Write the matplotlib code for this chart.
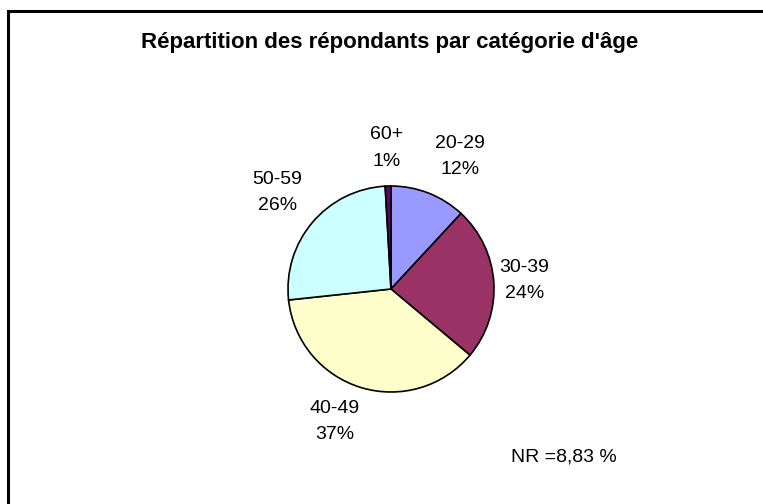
import numpy as np
import matplotlib.pyplot as plt
from matplotlib.patches import Rectangle

plt.rcParams['font.family'] = ['Liberation Sans', 'DejaVu Sans']

categories = ['20-29', '30-39', '40-49', '50-59', '60+']
shares = [11.9, 24.2, 37.2, 25.8, 0.9]
pct_labels = ['12%', '24%', '37%', '26%', '1%']
colors = ['#9999FF', '#993366', '#FFFFCC', '#CCFFFF', '#660066']
title = "Répartition des répondants par catégorie d'âge"
nr_note = 'NR =8,83 %'

W, H = 763, 504
fig = plt.figure(figsize=(W / 100, H / 100), dpi=100)
ax = fig.add_axes([0, 0, 1, 1])

cx, cy, R = 391, H - 289, 103
wedges, _ = ax.pie(shares, colors=colors, startangle=90, counterclock=False,
                   center=(cx, cy), radius=R,
                   wedgeprops=dict(edgecolor='black', linewidth=1.2))

# label placement (Excel-like): radius factor and small angle shift
lab_dist = [1.45, 1.30, 1.40, 1.45, 1.37]
lab_shift = [-6, 0, -6, 0, 0]
for w, cat, p, d, s in zip(wedges, categories, pct_labels, lab_dist, lab_shift):
    a = np.deg2rad((w.theta1 + w.theta2) / 2 + s)
    ax.text(cx + R * d * np.cos(a), cy + R * d * np.sin(a), f'{cat}\n{p}',
            ha='center', va='center', fontsize=14, linespacing=1.72)

ax.text(389.5, H - 48, title, ha='center', va='baseline',
        fontsize=16, fontweight='bold')
ax.text(511, H - 457, nr_note, ha='left', va='center', fontsize=14)

ax.add_patch(Rectangle((8, -20), W + 40, H - 11 + 20, fill=False,
                       edgecolor='black', linewidth=2.2, clip_on=False))

ax.set_xlim(0, W)
ax.set_ylim(0, H)
ax.set_aspect('auto')
ax.axis('off')
fig.savefig('out.png', dpi=100)
